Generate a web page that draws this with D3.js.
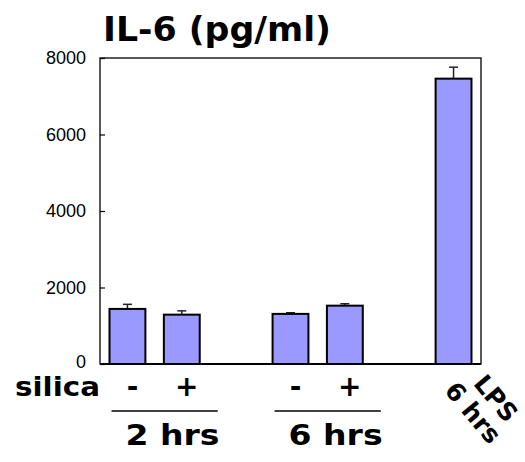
<!DOCTYPE html>
<html>
<head>
<meta charset="utf-8">
<script src="https://cdn.jsdelivr.net/npm/d3@7"></script>
<style>
  body { margin: 0; background: #fff; }
  svg { display: block; }
</style>
</head>
<body>
<svg id="chart" width="525" height="462"></svg>
<script>
// bars in order, with the slot each one sits in (slots 2 and 5 stay empty)
const conditions = ['2h -', '2h +', '6h -', '6h +', 'LPS 6h'];
const slotOf = [0, 1, 3, 4, 6];
const means = [1440, 1290, 1310, 1525, 7460];
const errs = [120, 100, 30, 50, 300];
const yTicks = [0, 2000, 4000, 6000, 8000];
const silicaSigns = ['-', '+', '-', '+'];
const timeGroups = ['2 hrs', '6 hrs'];

const hand = "'Comic Sans MS', 'DejaVu Sans', sans-serif";
const svg = d3.select('#chart');

const x = d3.scaleBand()
    .domain(d3.range(7))
    .range([100, 481])
    .paddingInner(0.34)
    .paddingOuter(0.175);

const y = d3.scaleLinear()
    .domain([0, 8000])
    .range([364, 58]);

// frame
svg.append('rect')
    .attr('x', 100).attr('y', 58)
    .attr('width', 381).attr('height', 306)
    .attr('fill', 'none')
    .attr('stroke', '#000')
    .attr('stroke-width', 1.3);

// y axis, ticks pointing inside
const yAxis = svg.append('g')
    .attr('transform', 'translate(100,0)')
    .call(d3.axisLeft(y).tickValues(yTicks).tickFormat(d3.format('d')).tickSize(-5).tickPadding(14));
yAxis.select('.domain').remove();
yAxis.selectAll('line').attr('stroke', '#000').attr('stroke-width', 1.2);
yAxis.selectAll('text')
    .attr('font-family', "'Liberation Sans', Arial, sans-serif")
    .attr('font-size', 18)
    .attr('fill', '#000');
// the zero label sits a touch higher so it clears the silica row
yAxis.selectAll('text').filter(d => d === 0).attr('dy', '0.2em');

const bars = conditions.map((c, i) => ({ c, slot: slotOf[i], v: means[i], e: errs[i] }));

// error bars (upper half only)
const eb = svg.append('g').attr('stroke', '#222').attr('stroke-width', 1.5);
eb.selectAll('line.stem')
    .data(bars)
    .join('line')
    .attr('class', 'stem')
    .attr('x1', d => x(d.slot) + x.bandwidth() / 2)
    .attr('x2', d => x(d.slot) + x.bandwidth() / 2)
    .attr('y1', d => y(d.v))
    .attr('y2', d => y(d.v + d.e));
eb.selectAll('line.cap')
    .data(bars)
    .join('line')
    .attr('class', 'cap')
    .attr('x1', d => x(d.slot) + x.bandwidth() / 2 - 4.5)
    .attr('x2', d => x(d.slot) + x.bandwidth() / 2 + 4.5)
    .attr('y1', d => y(d.v + d.e))
    .attr('y2', d => y(d.v + d.e));

// bars
svg.append('g')
    .selectAll('rect')
    .data(bars)
    .join('rect')
    .attr('x', d => x(d.slot))
    .attr('y', d => y(d.v))
    .attr('width', x.bandwidth())
    .attr('height', d => y(0) - y(d.v))
    .attr('fill', '#9999ff')
    .attr('stroke', '#000')
    .attr('stroke-width', 2);

// thicker baseline
svg.append('line')
    .attr('x1', 100).attr('x2', 481)
    .attr('y1', y(0)).attr('y2', y(0))
    .attr('stroke', '#000').attr('stroke-width', 2);

// title
svg.append('text')
    .attr('x', 103).attr('y', 41)
    .attr('font-family', hand)
    .attr('font-weight', 'bold')
    .attr('font-size', 34)
    .attr('textLength', 228)
    .attr('lengthAdjust', 'spacingAndGlyphs')
    .text('IL-6 (pg/ml)');

// silica row
svg.append('text')
    .attr('x', 15).attr('y', 396)
    .attr('font-family', hand)
    .attr('font-weight', 'bold')
    .attr('font-size', 27)
    .attr('textLength', 85)
    .attr('lengthAdjust', 'spacingAndGlyphs')
    .text('silica');

svg.append('g')
    .selectAll('text')
    .data(silicaSigns)
    .join('text')
    .attr('x', (d, i) => x(slotOf[i]) + x.bandwidth() / 2 + 5)
    .attr('y', 396)
    .attr('text-anchor', 'middle')
    .attr('font-family', hand)
    .attr('font-weight', 'bold')
    .attr('font-size', 28)
    .text(d => d);

// time groups: rule + label under each pair
const tg = svg.append('g').selectAll('g')
    .data(timeGroups)
    .join('g');
tg.append('line')
    .attr('x1', (d, i) => x(slotOf[2 * i]) + 2)
    .attr('x2', (d, i) => x(slotOf[2 * i + 1]) + x.bandwidth() + 18)
    .attr('y1', 411).attr('y2', 411)
    .attr('stroke', '#000').attr('stroke-width', 1.5);
tg.append('text')
    .attr('x', (d, i) => x(slotOf[2 * i]) + 16)
    .attr('y', 445)
    .attr('font-family', hand)
    .attr('font-weight', 'bold')
    .attr('font-size', 28)
    .attr('textLength', 94)
    .attr('lengthAdjust', 'spacingAndGlyphs')
    .text(d => d);

// rotated LPS label
const lx = x(slotOf[4]) + x.bandwidth() / 2;
[['LPS', 19, 20], ['6 hrs', -10, 27]].forEach(([t, dx, dy]) => {
    svg.append('text')
        .attr('transform', `translate(${lx + dx},${364 + dy}) rotate(50)`)
        .attr('font-family', hand)
        .attr('font-weight', 'bold')
        .attr('font-size', 25)
        .text(t);
});
</script>
</body>
</html>
